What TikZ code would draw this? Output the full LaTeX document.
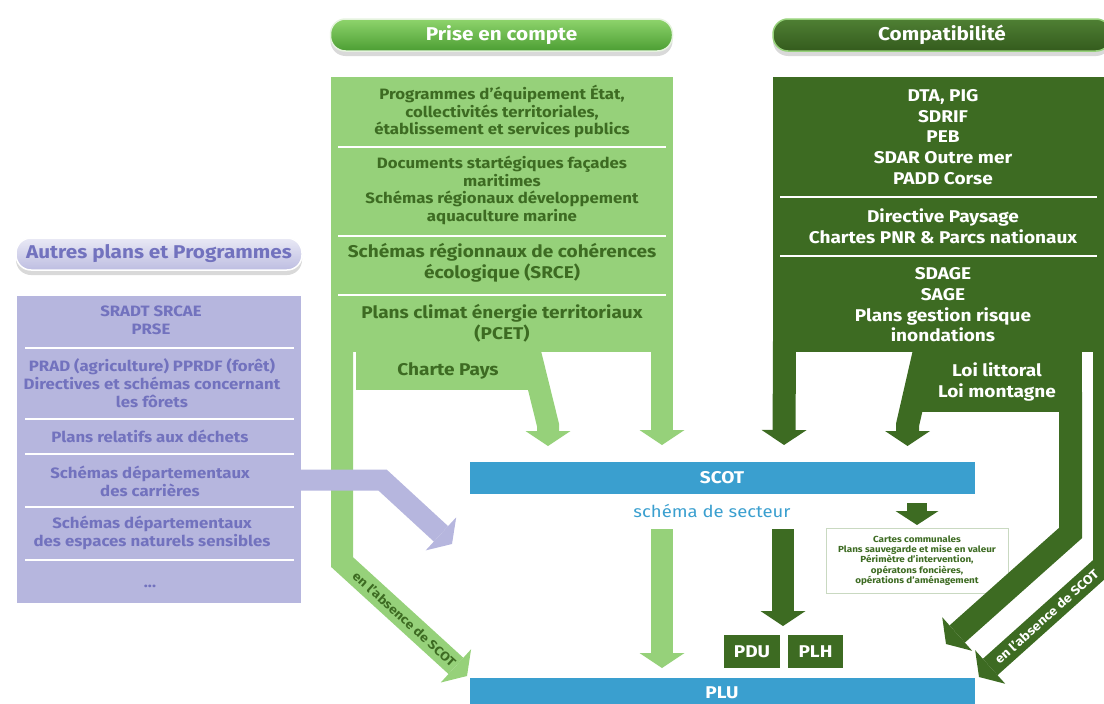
\documentclass[tikz,border=0pt]{standalone}
\usepackage{fontspec}
\setmainfont{Fira Sans}[FakeStretch=1.12]
\usetikzlibrary{arrows.meta, shadows}

\definecolor{lgreen}{HTML}{96D17A}
\definecolor{dgreen}{HTML}{3D6B22}
\definecolor{lavend}{HTML}{B6B6DE}
\definecolor{lavtext}{HTML}{7272BE}
\definecolor{scotblue}{HTML}{3A9FCF}
\definecolor{cartesline}{HTML}{C9D9C1}
\definecolor{pilltop}{HTML}{8ED46C}
\definecolor{pillbot}{HTML}{4C9E33}

\newcommand{\fsmall}{\fontsize{8.8}{10.2}\selectfont}
\newcommand{\fpurple}{\fontsize{15}{17.8}\selectfont}
\newcommand{\fgreen}{\fontsize{15}{17.6}\selectfont}
\newcommand{\fbig}{\fontsize{17}{20.7}\selectfont}
\newcommand{\fhead}{\fontsize{18.5}{20}\selectfont}
\newcommand{\fslope}{\fontsize{12.5}{14}\selectfont}

\tikzset{
  area/.style={inner sep=0pt, outer sep=0pt, align=center},
  pill/.style={area, rounded corners=15pt, minimum height=32pt, line width=1.5pt,
    font=\fhead\bfseries, drop shadow={shadow xshift=0pt, shadow yshift=-5pt, opacity=0.3}},
  txt/.style={align=center, inner sep=0pt},
  sepline/.style={draw=white, line width=1.6pt},
  blockarrow/.style={line join=miter, -{Triangle[length=15pt, width=45pt, line width=0pt]}},
  lgarrow/.style={blockarrow, draw=lgreen, line width=22pt},
  dgarrow/.style={blockarrow, draw=dgreen, line width=23pt},
  lavarrow/.style={blockarrow, draw=lavend, line width=21pt},
  bar/.style={area, fill=scotblue, minimum width=505pt, text=white, font=\fbig\bfseries},
  darkbox/.style={area, fill=dgreen, text=white, font=\fbig\bfseries},
}

\begin{document}
\begin{tikzpicture}[x=1pt, y=-1pt]
\useasboundingbox (0,0) rectangle (1104,704);
\clip (0,0) rectangle (1104,704);

% en-tetes
\node[pill, top color=pilltop, bottom color=pillbot, draw=white!75!lgreen,
  text=white, minimum width=342pt] (prise) at (501.5,35) {Prise en compte};
\node[pill, top color=dgreen!80!lgreen, bottom color=dgreen!85!black, draw=lgreen,
  text=white, minimum width=338pt] (compat) at (942,35) {Compatibilité};
\node[pill, top color=white!70!lavend, bottom color=lavend!90!white, draw=white,
  text=lavtext, minimum width=286pt] (autres) at (159,254) {Autres plans et Programmes};

% cadres
\node[area, fill=lgreen, minimum width=342pt, minimum height=275pt] (pec) at (502,214.5) {};
\node[area, fill=lgreen, minimum width=185pt, minimum height=38pt] (charte) at (448,371) {};
\node[area, fill=dgreen, minimum width=340pt, minimum height=275pt] (cpt) at (943,214.5) {};
\node[darkbox, minimum width=162pt, minimum height=60pt] (loi) at (1001,382) {};
\node[area, fill=lavend, minimum width=284pt, minimum height=307pt] (apbox) at (159,449.5) {};
\foreach \y in {147,236,295}
  \draw[sepline] (338,\y) -- (666,\y);
\foreach \y in {197,256}
  \draw[sepline] (780,\y) -- (1097,\y);
\foreach \y in {348,419,454,507,560}
  \draw[sepline] (25,\y) -- (294,\y);

% SCOT, PLU
\node[bar, minimum height=32pt] (scot) at (722,478) {SCOT};
\node[txt, text=scotblue, font=\fontsize{16.5}{20}\selectfont] (secteur) at (712,511) {schéma de secteur};
\node[bar, minimum height=30pt, anchor=north] (plu) at (722,678) {PLU};
\node[darkbox, minimum width=56pt, minimum height=33pt] (pdu) at (752,651.5) {PDU};
\node[darkbox, minimum width=55pt, minimum height=33pt] (plh) at (815.5,651.5) {PLH};
\node[area, draw=cartesline, line width=1pt, fill=white, minimum width=182pt, minimum height=65pt,
  text=dgreen, font=\fsmall\bfseries] (cartes) at (917,560.5)
  {Cartes communales\\Plans sauvegarde et mise en valeur\\Périmètre d’intervention,\\opératons foncières,\\opérations d’aménagement};

% pointes des fleches
\coordinate (tipcharte) at (548,446);
\coordinate (tippec) at (662,445);
\coordinate (tipplu1) at (467,676);
\coordinate (tipscot) at (452,544);
\coordinate (tipcpt) at (784,445);
\coordinate (tiploi) at (907.5,446);
\coordinate (tipplu2) at (946,644);
\coordinate (tipplu3) at (979,677);
\coordinate (tipplu4) at (662,668);
\coordinate (tippdu) at (783,626);

% fleches
\draw[lgarrow] ([xshift=11pt,yshift=12pt]pec.south west) -- (342,562) -- (tipplu1)
  node[pos=0.5, sloped, text=dgreen, font=\fslope\bfseries] {en l’absence de SCOT};
\draw[lgarrow] ([xshift=-11pt,yshift=12pt]pec.south east) -- (tippec);
\draw[lgarrow] (527,340) -- (548,425) -- (tipcharte);
\draw[lgarrow] (662,529) -- (tipplu4);
\draw[lavarrow] ([xshift=-11pt]apbox.east |- 0,480) -- (382.5,480) -- (tipscot);

\draw[dgarrow] ([xshift=11.5pt,yshift=12pt]cpt.south west) -- (tipcpt);
\draw[dgarrow] (927,340) -- (907.5,425) -- (tiploi);
\draw[dgarrow] ([xshift=-11.5pt,yshift=20pt]loi.south east) -- (1070.5,533) -- (tipplu2);
\draw[dgarrow, line width=22pt] (1104,340) -- (1104,565) -- (tipplu3)
  node[pos=0.46, sloped, text=white, font=\fslope\bfseries] {en l’absence de SCOT};
\draw[dgarrow, line width=22pt] (783,529) -- (tippdu);
\draw[dgarrow, line width=20pt, -{Triangle[length=14pt, width=43pt, line width=0pt]}]
  (917,503) -- ([yshift=3pt]cartes.north);

% textes
\node[txt, text=dgreen, font=\fgreen\bfseries] (pec1) at (502,111.5)
  {Programmes d’équipement État,\\collectivités territoriales,\\établissement et services publics};
\node[txt, text=dgreen, font=\fgreen\bfseries] (pec2) at (502,190.5)
  {Documents startégiques façades\\maritimes\\Schémas régionaux développement\\aquaculture marine};
\node[txt, text=dgreen, font=\fbig\bfseries] (pec3) at (502,262.5)
  {Schémas régionnaux de cohérences\\écologique (SRCE)};
\node[txt, text=dgreen, font=\fbig\bfseries] (pec4) at (502,323.5)
  {Plans climat énergie territoriaux\\(PCET)};
\node[txt, text=dgreen, font=\fbig\bfseries] (chartetxt) at (charte) {Charte Pays};

\node[txt, text=white, font=\fbig\bfseries] (cpt1) at (943,137)
  {DTA, PIG\\SDRIF\\PEB\\SDAR Outre mer\\PADD Corse};
\node[txt, text=white, font=\fbig\bfseries] (cpt2) at (943,226.5)
  {Directive Paysage\\Chartes PNR \& Parcs nationaux};
\node[txt, text=white, font=\fbig\bfseries] (cpt3) at (943,305)
  {SDAGE\\SAGE\\Plans gestion risque\\inondations};
\node[txt, text=white, font=\fbig\bfseries] (loitxt) at (997,382) {Loi littoral\\Loi montagne};

\node[txt, text=lavtext, font=\fpurple\bfseries] (ap1) at (151,320.5) {SRADT SRCAE\\PRSE};
\node[txt, text=lavtext, font=\fpurple\bfseries] (ap2) at (152,383)
  {PRAD (agriculture) PPRDF (forêt)\\Directives et schémas concernant\\les fôrets};
\node[txt, text=lavtext, font=\fpurple\bfseries] (ap3) at (150,436) {Plans relatifs aux déchets};
\node[txt, text=lavtext, font=\fpurple\bfseries] (ap4) at (150,481) {Schémas départementaux\\des carrières};
\node[txt, text=lavtext, font=\fpurple\bfseries] (ap5) at (152,533)
  {Schémas départementaux\\des espaces naturels sensibles};
\node[txt, text=lavtext, font=\fpurple\bfseries] (ap6) at (150,586) {...};
\end{tikzpicture}
\end{document}
